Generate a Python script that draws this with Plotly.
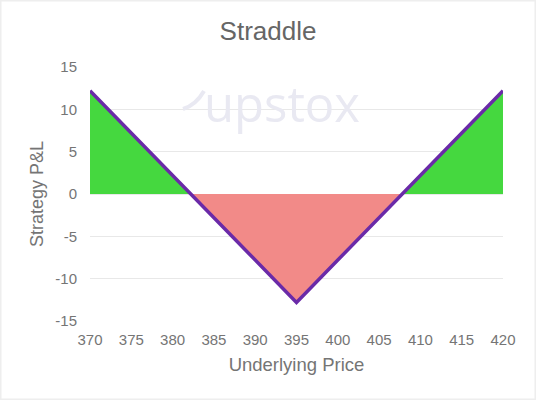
import plotly.graph_objects as go

TITLE = "Straddle"
X_TITLE = "Underlying Price"
Y_TITLE = "Strategy P&L"
WATERMARK = "upstox"

price = [370, 375, 380, 382.2, 385, 390, 395, 400, 405, 407.8, 410, 415, 420]
pnl = [12.2, 7.2, 2.2, 0, -2.8, -7.8, -12.8, -7.8, -2.8, 0, 2.2, 7.2, 12.2]
profit = [12.2, 7.2, 2.2, 0, 0, 0, 0, 0, 0, 0, 2.2, 7.2, 12.2]
loss = [0, 0, 0, 0, -2.8, -7.8, -12.8, -7.8, -2.8, 0, 0, 0, 0]
x_ticks = [370, 375, 380, 385, 390, 395, 400, 405, 410, 415, 420]
y_ticks = [-15, -10, -5, 0, 5, 10, 15]
y_tick_labels = ["-15", "-10", "-5", "0", "5", "10", "15"]

W, H = 536, 400
L, R, T, B = 90, 33, 67, 79
pw, ph = W - L - R, H - T - B


def px(v):
    return (v - L) / pw


def py(v):
    return 1 - (v - T) / ph


FONT = "Liberation Sans, Arial, sans-serif"
fig = go.Figure()
fig.add_trace(go.Scatter(x=price, y=profit, mode="none", fill="tozeroy",
                         fillcolor="#45d83f", hoverinfo="skip", showlegend=False))
fig.add_trace(go.Scatter(x=price, y=loss, mode="none", fill="tozeroy",
                         fillcolor="#f28a88", hoverinfo="skip", showlegend=False))
fig.add_trace(go.Scatter(x=price, y=pnl, mode="lines", cliponaxis=False,
                         line=dict(color="#6a2aa8", width=3.5), showlegend=False))

fig.update_layout(
    width=W, height=H, autosize=False,
    margin=dict(l=L, r=R, t=T, b=B, pad=0),
    paper_bgcolor="white", plot_bgcolor="white",
    font=dict(family=FONT, color="#757575", size=15),
    title=dict(text=TITLE, x=0.5, xanchor="center", y=1 - 31 / H, yanchor="middle",
               font=dict(size=26, color="#666666", family=FONT)),
    xaxis=dict(range=[370, 420], tickmode="array", tickvals=x_ticks, showgrid=False,
               zeroline=False, showline=False, ticks="", tickfont=dict(size=15),
               ticklabelstandoff=8,
               title=dict(text=X_TITLE, font=dict(size=18.5), standoff=11)),
    yaxis=dict(range=[-15, 15], tickmode="array", tickvals=y_ticks, ticktext=y_tick_labels,
               showgrid=True, gridcolor="#e8e8e8", gridwidth=1.2, zeroline=False,
               showline=False, ticks="", tickfont=dict(size=15), ticklabelstandoff=12,
               title=dict(text=Y_TITLE, font=dict(size=18), standoff=7)),
    annotations=[dict(text=WATERMARK, xref="paper", yref="paper", x=px(282), y=py(103),
                      xanchor="center", yanchor="middle", showarrow=False,
                      font=dict(size=49, color="#e9e9f2", family="Open Sans"))],
    shapes=[
        dict(type="path", xref="paper", yref="paper", layer="above",
             path=f"M {px(183)} {py(109)} Q {px(196)} {py(105)} {px(204)} {py(91)}",
             line=dict(color="#e9e9f2", width=4)),
        dict(type="rect", xref="paper", yref="paper", x0=px(0.5), x1=px(W - 0.5),
             y0=py(H - 0.5), y1=py(0.5), line=dict(color="#eeeeee", width=2), layer="below"),
    ],
)
fig.write_html("out.html", config={"displayModeBar": False},
               post_script="document.body.style.margin='0';")
